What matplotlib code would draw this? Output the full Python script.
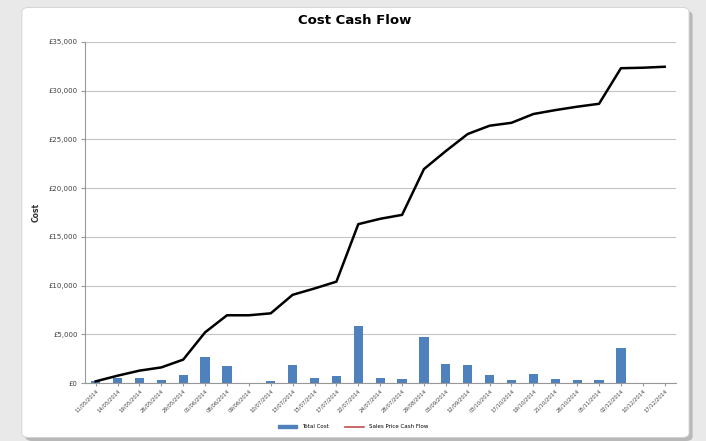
import numpy as np
import matplotlib.pyplot as plt
from matplotlib.patches import FancyBboxPatch
from matplotlib.lines import Line2D
from matplotlib.patches import Patch

dates = ['11/05/2014', '14/05/2014', '19/05/2014', '26/05/2014', '29/05/2014',
         '01/06/2014', '08/06/2014', '09/06/2014', '10/07/2014', '13/07/2014',
         '15/07/2014', '17/07/2014', '22/07/2014', '24/07/2014', '28/07/2014',
         '29/08/2014', '03/09/2014', '12/09/2014', '03/10/2014', '17/10/2014',
         '19/10/2014', '21/10/2014', '26/10/2014', '05/11/2014', '02/12/2014',
         '10/12/2014', '17/12/2014']
total_cost = [200, 550, 500, 300, 800, 2700, 1750, 0, 250, 1850,
              550, 700, 5800, 550, 400, 4700, 1900, 1800, 850, 300,
              900, 400, 350, 350, 3600, 0, 0]
cumulative = [170, 750, 1270, 1600, 2400, 5200, 6950, 6950, 7150, 9050,
              9700, 10400, 16300, 16850, 17250, 21950, 23800, 25550, 26400, 26700,
              27600, 28000, 28350, 28650, 32300, 32350, 32450]

fig = plt.figure(figsize=(7.06, 4.41), dpi=100)
fig.patch.set_facecolor('#e9e9e9')

# white card with a soft shadow
shadow = FancyBboxPatch((0.036, 0.0), 0.945, 0.975, boxstyle='round,pad=0,rounding_size=0.01',
                        transform=fig.transFigure, facecolor='#b8b8b8', edgecolor='none', zorder=-2)
card = FancyBboxPatch((0.031, 0.008), 0.945, 0.975, boxstyle='round,pad=0,rounding_size=0.01',
                      transform=fig.transFigure, facecolor='white', edgecolor='#d0d0d0', lw=0.6, zorder=-1)
fig.patches.extend([shadow, card])

ax = fig.add_axes([0.120, 0.1315, 0.837, 0.7735])
ax.set_facecolor('none')
x = np.arange(len(dates))

ax.bar(x, total_cost, width=0.42, color='#4f81bd', zorder=2)
ax.plot(x, cumulative, color='black', lw=1.8, zorder=3)

ax.set_xlim(-0.5, len(dates) - 0.5)
ax.set_ylim(0, 35000)
ax.set_yticks(np.arange(0, 35001, 5000))
ax.set_yticklabels(['£0'] + ['£{:,}'.format(v) for v in range(5000, 35001, 5000)],
                   fontsize=5, color='#404040')
ax.yaxis.grid(True, color='#c4c4c4', lw=0.8)
ax.set_axisbelow(True)

ax.set_xticks(x)
ax.set_xticklabels(dates, rotation=45, ha='right', rotation_mode='anchor', fontsize=3.8, color='#404040')
ax.tick_params(axis='x', length=2, color='#999999', pad=2)
ax.tick_params(axis='y', length=3, color='#999999', pad=2)

for s in ['top', 'right']:
    ax.spines[s].set_visible(False)
ax.spines['left'].set_color('#999999')
ax.spines['bottom'].set_color('#999999')

ax.set_ylabel('Cost', fontsize=5.5, fontweight='bold', color='#303030', labelpad=6)
fig.text(0.503, 0.953, 'Cost Cash Flow', ha='center', va='center', fontsize=9.5, fontweight='bold')

handles = [Patch(color='#4f81bd'), Line2D([0], [0], color='#c0504d', lw=1.2)]
fig.legend(handles, ['Total Cost', 'Sales Price Cash Flow'], loc='center', bbox_to_anchor=(0.5, 0.032),
           ncol=2, frameon=False, fontsize=4, handlelength=3.5, handleheight=0.5, columnspacing=3)

fig.savefig('out.png', dpi=100)
